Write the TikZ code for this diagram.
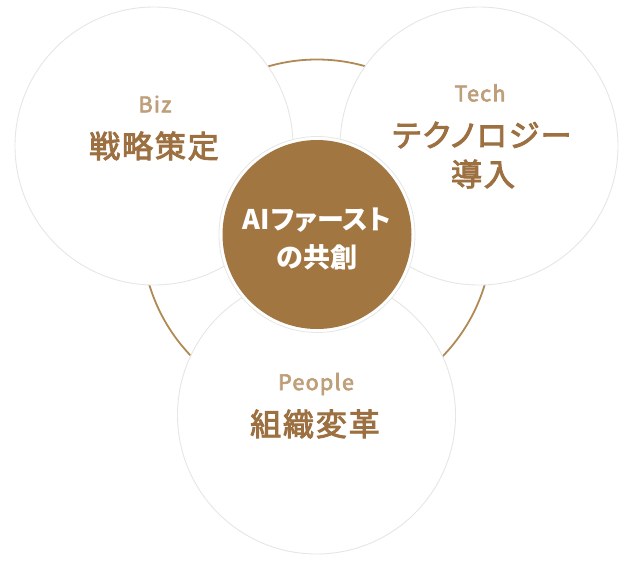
\documentclass[tikz,border=0pt]{standalone}
\usepackage{fontspec}
\setmainfont{Noto Sans CJK JP}
\newfontfamily\jpmain[LetterSpace=6,FakeBold=3,RawFeature=+palt]{Noto Sans CJK JP}
\newfontfamily\jplabel[LetterSpace=6,FakeBold=3]{Noto Sans CJK JP}
\newfontfamily\jpcenter[LetterSpace=2,RawFeature=+palt]{Noto Sans CJK JP}
\definecolor{brownfill}{HTML}{A27641}
\definecolor{browntext}{HTML}{9C7040}
\definecolor{tanlabel}{HTML}{BF9F7A}
\definecolor{ringcol}{HTML}{B08A55}
\definecolor{edgecol}{HTML}{E6E6E6}
\tikzset{
  whitedisk/.style={circle, fill=white, draw=edgecol, line width=0.9pt, minimum size=278pt, inner sep=0pt},
  ringline/.style={circle, draw=ringcol, line width=1.8pt, minimum size=350pt, inner sep=0pt},
  halo/.style={circle, fill=white, draw=edgecol, line width=0.8pt, minimum size=196pt, inner sep=0pt},
  centerdisk/.style={circle, fill=brownfill, minimum size=189pt, inner sep=0pt},
  labeltext/.style={text=tanlabel, font=\jplabel\fontsize{21.5}{26}\selectfont, inner sep=0pt},
  maintext/.style={text=browntext, font=\jpmain\fontsize{31}{36}\selectfont, inner sep=0pt},
  centertext/.style={text=white, font=\jpcenter\fontsize{27}{32}\selectfont\bfseries, inner sep=0pt}
}
\begin{document}
\begin{tikzpicture}[x=1pt,y=-1pt]
\useasboundingbox (0,0) rectangle (634,560);
\node[ringline] (ring) at (317,234.5) {};
\node[whitedisk] (biz) at (154,146) {};
\node[whitedisk] (tech) at (479,146) {};
\node[whitedisk] (people) at (316.5,415) {};
\node[halo] (halo) at (317,234.5) {};
\node[centerdisk] (core) at (317,234.5) {};
\node[labeltext] (bizlabel) at (155,104) {Biz};
\node[maintext] (biztext) at (154,146) {戦略策定};
\node[labeltext] (techlabel) at (480,93) {Tech};
\node[maintext] (techtext1) at (482,135) {テクノロジー};
\node[maintext] (techtext2) at (483,174) {導入};
\node[labeltext] (peoplelabel) at (316,384) {People};
\node[maintext] (peopletext) at (315,424) {組織変革};
\node[centertext] (coretext1) at (317,220) {AIファースト};
\node[centertext] (coretext2) at (317,257) {の共創};
\end{tikzpicture}
\end{document}
